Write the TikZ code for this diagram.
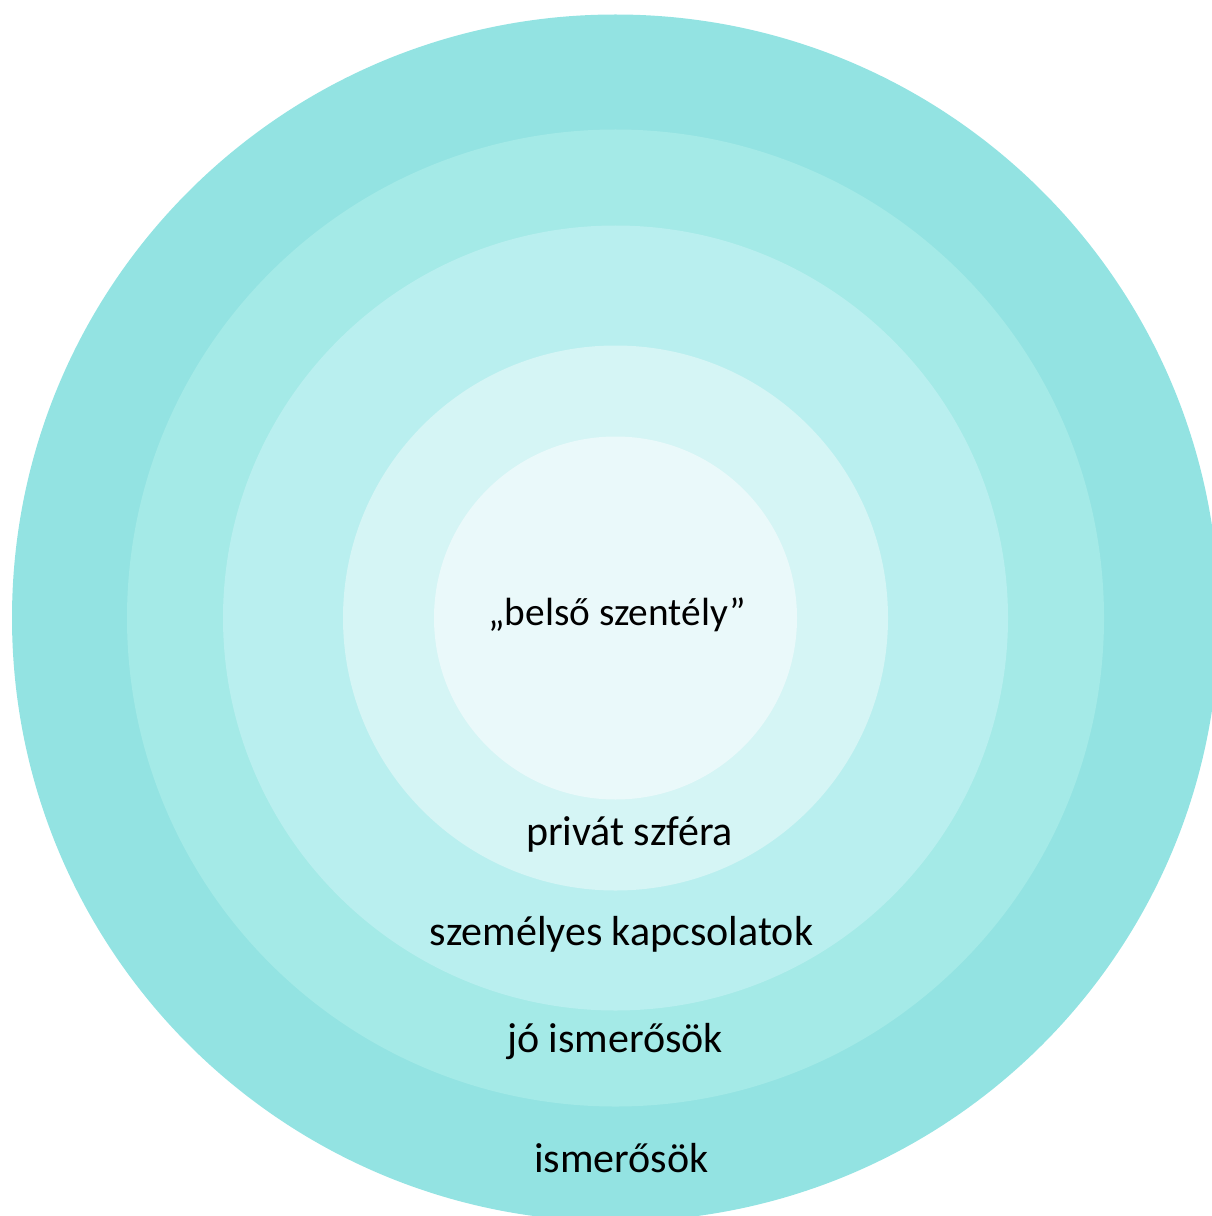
\documentclass[tikz,border=0pt]{standalone}
\usepackage{fontspec}
\setmainfont{Carlito}

\begin{document}
\begin{tikzpicture}[x=0.75pt,y=0.75pt,yscale=-1,xscale=1]
	\useasboundingbox (0,0) rectangle (1211,1216);
	
	%Shape: Circle [id:ring1] 
	\fill [color={rgb, 255:red, 147; green, 227; blue, 226 }] (615.5,618) circle (603.5);
	%Shape: Circle [id:ring2] 
	\fill [color={rgb, 255:red, 164; green, 234; blue, 231 }] (615.5,618) circle (488.5);
	%Shape: Circle [id:ring3] 
	\fill [color={rgb, 255:red, 185; green, 239; blue, 239 }] (615.5,618) circle (392.5);
	%Shape: Circle [id:ring4] 
	\fill [color={rgb, 255:red, 213; green, 245; blue, 245 }] (615.5,618) circle (272.5);
	%Shape: Circle [id:ring5] 
	\fill [color={rgb, 255:red, 234; green, 249; blue, 250 }] (615.5,618) circle (181.5);
	
	% Text Node
	\draw (617,625) node (belso) [anchor=base][inner sep=0.75pt]  [font=\fontsize{29.5}{35}\selectfont]  {„belső szentély”};
	% Text Node
	\draw (629.5,845) node (privat) [anchor=base][inner sep=0.75pt]  [font=\fontsize{31.5}{38}\selectfont]  {privát szféra};
	% Text Node
	\draw (621.5,945) node (szemelyes) [anchor=base][inner sep=0.75pt]  [font=\fontsize{31.5}{38}\selectfont]  {személyes kapcsolatok};
	% Text Node
	\draw (615,1052) node (jo) [anchor=base][inner sep=0.75pt]  [font=\fontsize{31.5}{38}\selectfont]  {jó ismerősök};
	% Text Node
	\draw (621.5,1172) node (ismerosok) [anchor=base][inner sep=0.75pt]  [font=\fontsize{31.5}{38}\selectfont]  {ismerősök};
	
\end{tikzpicture}
\end{document}
